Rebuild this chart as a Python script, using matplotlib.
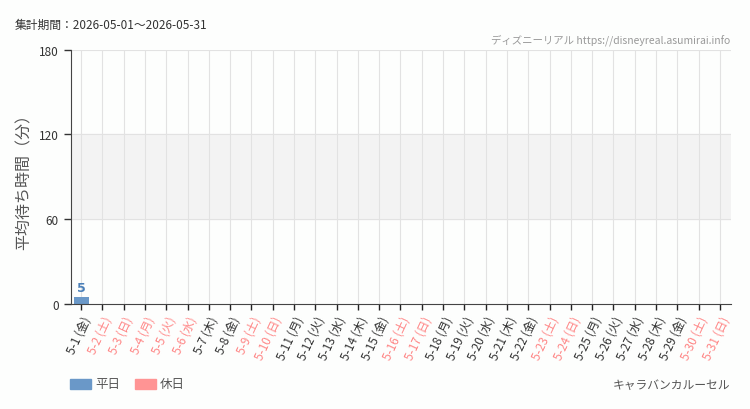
import matplotlib.pyplot as plt
import numpy as np

plt.rcParams['font.family'] = ['Noto Sans CJK JP', 'DejaVu Sans']

# データ
days = list(range(1, 32))
weekdays = ["金", "土", "日", "月", "火", "水", "木", "金", "土", "日", "月", "火", "水", "木", "金",
            "土", "日", "月", "火", "水", "木", "金", "土", "日", "月", "火", "水", "木", "金", "土", "日"]
holidays = [2, 3, 4, 5, 6, 9, 10, 16, 17, 23, 24, 30, 31]
wait_min = [5] + [0] * 30  # 平均待ち時間（分）

BLUE = "#6a98c8"
PINK = "#ff9494"
HOLI_TXT = "#ff8585"
BG = "#fdfefd"

labels = [f"5-{d} ({w})" for d, w in zip(days, weekdays)]
colors = [PINK if d in holidays else BLUE for d in days]
x = np.arange(len(days))

fig = plt.figure(figsize=(7.5, 4.1), dpi=100, facecolor=BG)
ax = fig.add_axes([70.5 / 750, 1 - 305 / 410, 660 / 750, 254.5 / 410])
ax.set_facecolor(BG)

# 背景の帯
ax.axhspan(60, 120, color="#f3f3f3", zorder=0)
for yv in (60, 120, 180):
    ax.axhline(yv, color="#e2e2e2", lw=0.8, zorder=0.5)
for xv in x:
    ax.axvline(xv, color="#e2e2e2", lw=0.8, zorder=0.5)

ax.bar(x, wait_min, width=0.7, color=colors, zorder=2)
for xi, v in zip(x, wait_min):
    if v > 0:
        ax.text(xi, v + 2, str(v), ha="center", va="bottom", color="#4a7fb8",
                fontsize=9, fontweight="bold", family=["Liberation Sans Narrow", "DejaVu Sans"])

ax.set_xlim(-0.5, len(days) - 0.5)
ax.set_ylim(0, 180)
ax.set_yticks([0, 60, 120, 180])
ax.tick_params(axis="y", labelsize=8.5, colors="#333333", length=5, width=1)
ax.tick_params(axis="x", length=4, width=1, colors="#222222", pad=3)
ax.set_xticks(x)
ax.set_xticklabels(labels, rotation=65, ha="right", va="top", rotation_mode="anchor", fontsize=8.5)
for lbl, d in zip(ax.get_xticklabels(), days):
    lbl.set_color(HOLI_TXT if d in holidays else "#333333")

for s in ("top", "right"):
    ax.spines[s].set_visible(False)
ax.spines["left"].set_color("#444444")
ax.spines["bottom"].set_color("#444444")

ax.set_ylabel("平均待ち時間（分）", fontsize=11.5, color="#555555")
ax.yaxis.set_label_coords((33 - 70.5) / 660, 0.5)

fig.text(15 / 750, 1 - 25 / 410, "集計期間：2026-05-01～2026-05-31", fontsize=8.5,
         color="#333333", va="center", ha="left")
fig.text(730 / 750, 1 - 40 / 410, "ディズニーリアル https://disneyreal.asumirai.info", fontsize=7.5,
         color="#999999", va="center", ha="right")
fig.text(730 / 750, 1 - 385 / 410, "キャラバンカルーセル", fontsize=8.5,
         color="#555555", va="center", ha="right")

# 凡例
fig.patches.append(plt.Rectangle((70 / 750, 1 - 390 / 410), 21 / 750, 10 / 410,
                                 transform=fig.transFigure, color=BLUE))
fig.text(95 / 750, 1 - 385 / 410, "平日", fontsize=9, color="#555555", va="center")
fig.patches.append(plt.Rectangle((135 / 750, 1 - 390 / 410), 21 / 750, 10 / 410,
                                 transform=fig.transFigure, color=PINK))
fig.text(160 / 750, 1 - 385 / 410, "休日", fontsize=9, color="#555555", va="center")

fig.savefig("out.png", dpi=100, facecolor=BG)
